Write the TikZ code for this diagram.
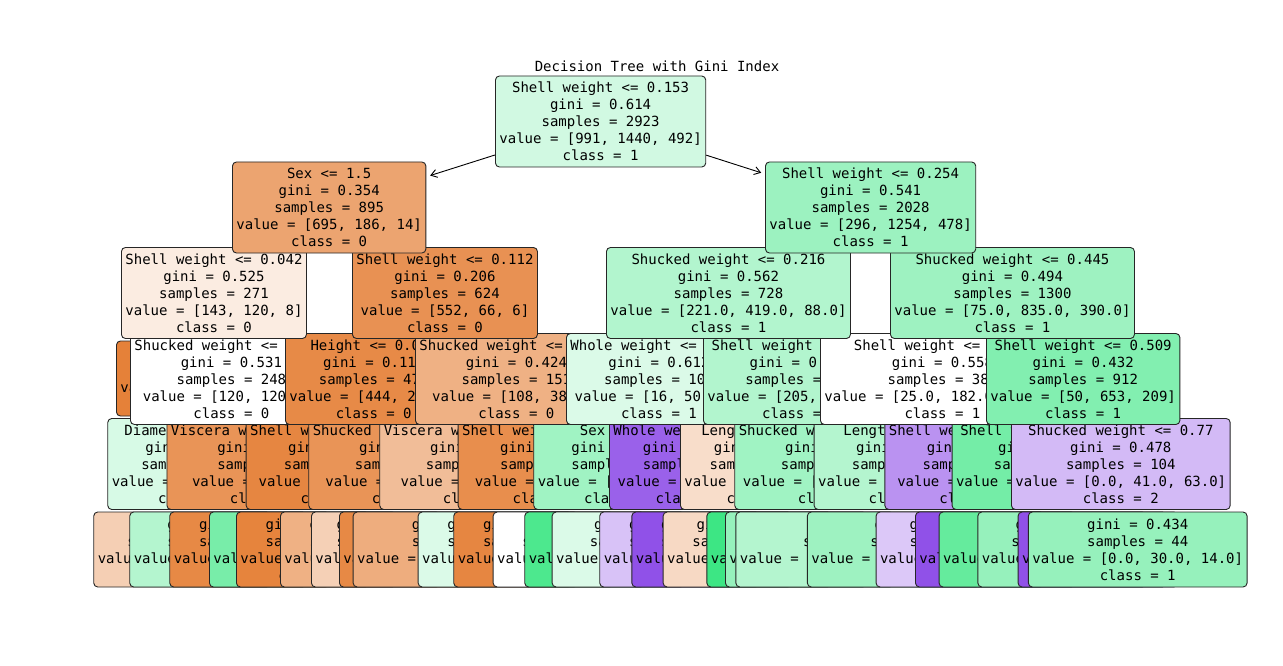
\documentclass[tikz,border=0pt]{standalone}
\usepackage{fontspec}
\newfontfamily\treefont{DejaVu Sans Mono}
\usetikzlibrary{arrows.meta}
\definecolor{cz}{RGB}{229,129,57}
\definecolor{co}{RGB}{57,229,129}
\definecolor{ct}{RGB}{129,57,229}
% \tv{left edge}{x where the next box covers}{line|line|...}:
% prints the characters left of the covering box, keeps the hidden rest as blank space
\ExplSyntaxOn
\fp_new:N \l__tv_cw_fp
\fp_set:Nn \l__tv_cw_fp { 14 * 1233 / 2048 }
\seq_new:N \l__tv_lines_seq
\int_new:N \l__tv_max_int
\int_new:N \l__tv_len_int
\int_new:N \l__tv_n_int
\fp_new:N \l__tv_center_fp
\tl_new:N \l__tv_out_tl
\bool_new:N \l__tv_first_bool
\NewDocumentCommand \tv { m m m }
 {
  \seq_set_split:Nnn \l__tv_lines_seq { | } { #3 }
  \int_zero:N \l__tv_max_int
  \seq_map_inline:Nn \l__tv_lines_seq
   {
    \int_set:Nn \l__tv_len_int { \str_count:n { ##1 } }
    \int_compare:nNnT \l__tv_len_int > \l__tv_max_int
     { \int_set_eq:NN \l__tv_max_int \l__tv_len_int }
   }
  \fp_set:Nn \l__tv_center_fp { #1 + 4 + \l__tv_max_int * \l__tv_cw_fp / 2 }
  \tl_clear:N \l__tv_out_tl
  \bool_set_true:N \l__tv_first_bool
  \seq_map_inline:Nn \l__tv_lines_seq
   {
    \int_set:Nn \l__tv_len_int { \str_count:n { ##1 } }
    \int_set:Nn \l__tv_n_int
     { \fp_eval:n { ceil( ( #2 - ( \l__tv_center_fp - \l__tv_len_int * \l__tv_cw_fp / 2 ) ) / \l__tv_cw_fp ) } }
    \int_set:Nn \l__tv_n_int
     { \int_max:nn { 0 } { \int_min:nn { \l__tv_len_int } { \l__tv_n_int } } }
    \bool_if:NF \l__tv_first_bool { \tl_put_right:Nn \l__tv_out_tl { \\ } }
    \bool_set_false:N \l__tv_first_bool
    \tl_put_right:Nx \l__tv_out_tl
     {
      \str_range:nnn { ##1 } { 1 } { \int_use:N \l__tv_n_int }
      \exp_not:N \phantom { \str_range:nnn { ##1 } { \int_eval:n { \l__tv_n_int + 1 } } { -1 } }
     }
   }
  \tl_use:N \l__tv_out_tl
 }
\ExplSyntaxOff
\tikzset{
  tn/.style={draw=black!85, line width=0.9pt, rounded corners=4pt, anchor=west, align=center,
    font=\treefont\fontsize{14}{17}\selectfont, inner xsep=4pt, inner ysep=0pt, minimum height=91pt},
  lf/.style={tn, minimum height=75pt},
  edgearrow/.style={draw=black, line width=0.9pt, -{Straight Barb[length=6pt,width=8pt]}, shorten >=4pt}
}
\begin{document}
\begin{tikzpicture}[x=1pt,y=-1pt]
\useasboundingbox (0,0) rectangle (1283,666);
\fill[white] (0,0) rectangle (1283,666);
% ---------------- depth 5 (leaves)
\node[lf, fill=cz!38] (l1) at (93.3,549.5) {\tv{93.3}{129.3}{gini = 0.518|samples = 118|value = [70, 36, 12]|class = 0}};
\node[lf, fill=co!38] (l2) at (129.3,549.5) {\tv{129.3}{169.3}{gini = 0.511|samples = 64|value = [10, 41, 13]|class = 1}};
\node[lf, fill=cz!94] (l3) at (169.3,549.5) {\tv{169.3}{209}{gini = 0.128|samples = 29|value = [27, 2, 0]|class = 0}};
\node[lf, fill=co!68] (l4) at (209,549.5) {\tv{209}{236}{gini = 0.394|samples = 17|value = [1, 13, 3]|class = 1}};
\node[lf, fill=cz!98] (l5) at (236,549.5) {\tv{236}{280}{gini = 0.035|samples = 56|value = [55, 1, 0]|class = 0}};
\node[lf, fill=cz!62] (l6) at (280,549.5) {\tv{280}{311}{gini = 0.444|samples = 30|value = [21, 8, 1]|class = 0}};
\node[lf, fill=cz!37] (l7) at (311,549.5) {\tv{311}{339}{gini = 0.444|samples = 12|value = [8, 4, 0]|class = 0}};
\node[lf, fill=cz!94] (l8) at (339,549.5) {\tv{339}{352.7}{gini = 0.091|samples = 21|value = [20, 1, 0]|class = 0}};
\node[lf, fill=cz!65] (l9) at (352.7,549.5) {\tv{352.7}{417.7}{gini = 0.376|samples = 59|value = [45.0, 12.0, 2.0]|class = 0}};
\node[lf, fill=co!18] (l10) at (417.7,549.5) {\tv{417.7}{453.3}{gini = 0.605|samples = 23|value = [7, 12, 4]|class = 1}};
\node[lf, fill=cz!96] (l11) at (453.3,549.5) {\tv{453.3}{492.7}{gini = 0.069|samples = 28|value = [27, 1, 0]|class = 0}};
\node[lf, fill=white] (l12) at (492.7,549.5) {\tv{492.7}{524.3}{gini = 0.5|samples = 8|value = [4, 4, 0]|class = 0}};
\node[lf, fill=co!90] (l13) at (524.3,549.5) {\tv{524.3}{551.7}{gini = 0.142|samples = 26|value = [0, 24, 2]|class = 1}};
\node[lf, fill=co!18] (l14) at (551.7,549.5) {\tv{551.7}{599.3}{gini = 0.543|samples = 179|value = [12, 100, 67]|class = 1}};
\node[lf, fill=ct!31] (l15) at (599.3,549.5) {\tv{599.3}{631.4}{gini = 0.545|samples = 20|value = [1, 8, 11]|class = 2}};
\node[lf, fill=ct!88] (l16) at (631.4,549.5) {\tv{631.4}{662.7}{gini = 0.165|samples = 22|value = [0, 2, 20]|class = 2}};
\node[lf, fill=cz!30] (l17) at (662.7,549.5) {\tv{662.7}{706.4}{gini = 0.483|samples = 107|value = [64, 40, 3]|class = 0}};
\node[lf, fill=co!98] (l18) at (706.4,549.5) {\tv{706.4}{725}{gini = 0.0|samples = 31|value = [0, 31, 0]|class = 1}};
\node[lf, fill=co!53] (l19) at (725,549.5) {\tv{725}{735.4}{gini = 0.455|samples = 56|value = [5, 40, 11]|class = 1}};
\node[lf, fill=co!38] (l20) at (735.4,549.5) {\tv{735.4}{806.9}{gini = 0.504|samples = 381|value = [105.0, 245.0, 31.0]|class = 1}};
\node[lf, fill=co!49] (l21) at (806.9,549.5) {\tv{806.9}{875.6}{gini = 0.314|samples = 295|value = [10.0, 240.0, 45.0]|class = 1}};
\node[lf, fill=ct!28] (l22) at (875.6,549.5) {\tv{875.6}{915}{gini = 0.470|samples = 66|value = [0, 25, 41]|class = 2}};
\node[lf, fill=ct!88] (l23) at (915,549.5) {\tv{915}{938.6}{gini = 0.142|samples = 26|value = [0, 2, 24]|class = 2}};
\node[lf, fill=co!78] (l24) at (938.6,549.5) {\tv{938.6}{977.4}{gini = 0.367|samples = 127|value = [12.0, 98.0, 17.0]|class = 1}};
\node[lf, fill=co!53] (l25) at (977.4,549.5) {\tv{977.4}{1017.6}{gini = 0.48|samples = 40|value = [0, 24, 16]|class = 1}};
\node[lf, fill=ct!88] (l26) at (1017.6,549.5) {\tv{1017.6}{1027.9}{gini = 0.0|samples = 18|value = [0, 0, 18]|class = 2}};
\node[lf, fill=co!53] (l27) at (1027.9,549.5) {gini = 0.434\\samples = 44\\value = [0.0, 30.0, 14.0]\\class = 1};
% ---------------- depth 4
\node[tn, fill=co!20] (d4a) at (107.3,464) {\tv{107.3}{166.5}{Diameter <= 0.215|gini = 0.494|samples = 177|value = [57, 112, 8]|class = 1}};
\node[tn, fill=cz!85] (d4b) at (166.5,464) {\tv{166.5}{245.7}{Viscera weight <= 0.017|gini = 0.200|samples = 71|value = [63, 8, 0]|class = 0}};
\node[tn, fill=cz!96] (d4c) at (245.7,464) {\tv{245.7}{308.3}{Shell weight <= 0.075|gini = 0.025|samples = 315|value = [311, 4, 0]|class = 0}};
\node[tn, fill=cz!85] (d4d) at (308.3,464) {\tv{308.3}{379.3}{Shucked weight <= 0.152|gini = 0.272|samples = 158|value = [133, 24, 1]|class = 0}};
\node[tn, fill=cz!52] (d4e) at (379.3,464) {\tv{379.3}{457.7}{Viscera weight <= 0.066|gini = 0.515|samples = 100|value = [60, 35, 5]|class = 0}};
\node[tn, fill=cz!90] (d4f) at (457.7,464) {\tv{457.7}{533.3}{Shell weight <= 0.131|gini = 0.111|samples = 51|value = [48, 3, 0]|class = 0}};
\node[tn, fill=co!48] (d4g) at (533.3,464) {\tv{533.3}{609}{Sex <= 0.5|gini = 0.572|samples = 65|value = [14, 41, 10]|class = 1}};
\node[tn, fill=ct!80] (d4h) at (609,464) {\tv{609}{680}{Whole weight <= 0.5|gini = 0.446|samples = 39|value = [2, 9, 28]|class = 2}};
\node[tn, fill=cz!27] (d4i) at (680,464) {\tv{680}{734.3}{Length <= 0.385|gini = 0.517|samples = 163|value = [90, 70, 3]|class = 0}};
\node[tn, fill=co!48] (d4j) at (734.3,464) {\tv{734.3}{813.7}{Shucked weight <= 0.185|gini = 0.497|samples = 461|value = [115, 299, 47]|class = 1}};
\node[tn, fill=co!38] (d4k) at (813.7,464) {\tv{813.7}{884.4}{Length <= 0.565|gini = 0.512|samples = 201|value = [20, 120, 61]|class = 1}};
\node[tn, fill=ct!55] (d4l) at (884.4,464) {\tv{884.4}{951.6}{Shell weight <= 0.355|gini = 0.512|samples = 174|value = [5, 70, 99]|class = 2}};
\node[tn, fill=co!70] (d4m) at (951.6,464) {\tv{951.6}{1011}{Shell weight <= 0.389|gini = 0.390|samples = 808|value = [50, 612, 146]|class = 1}};
\node[tn, fill=ct!35] (d4n) at (1011,464) {Shucked weight <= 0.77\\gini = 0.478\\samples = 104\\value = [0.0, 41.0, 63.0]\\class = 2};
% ---------------- depth 3
\node[lf, fill=cz] (d3a) at (116,378.5) {\tv{116}{130}{gini = 0.0|samples = 23|value = [23, 0, 0]|class = 0}};
\node[tn, fill=white] (d3b) at (130,379) {\tv{130}{285}{Shucked weight <= 0.098|gini = 0.531|samples = 248|value = [120, 120, 8]|class = 0}};
\node[tn, fill=cz!93] (d3c) at (285,379) {\tv{285}{415}{Height <= 0.085|gini = 0.115|samples = 473|value = [444, 28, 1]|class = 0}};
\node[tn, fill=cz!62] (d3d) at (415,379) {\tv{415}{566}{Shucked weight <= 0.254|gini = 0.424|samples = 151|value = [108, 38, 5]|class = 0}};
\node[tn, fill=co!18] (d3e) at (566,379) {\tv{566}{703}{Whole weight <= 0.357|gini = 0.612|samples = 104|value = [16, 50, 38]|class = 1}};
\node[tn, fill=co!39] (d3f) at (703,379) {\tv{703}{820}{Shell weight <= 0.177|gini = 0.536|samples = 624|value = [205, 369, 50]|class = 1}};
\node[tn, fill=white] (d3g) at (820,379) {\tv{820}{986}{Shell weight <= 0.313|gini = 0.558|samples = 388|value = [25.0, 182.0, 181.0]|class = 1}};
\node[tn, fill=co!63] (d3h) at (986,379) {Shell weight <= 0.509\\gini = 0.432\\samples = 912\\value = [50, 653, 209]\\class = 1};
% ---------------- depth 2
\node[tn, fill=cz!15] (d2a) at (121,293) {Shell weight <= 0.042\\gini = 0.525\\samples = 271\\value = [143, 120, 8]\\class = 0};
\node[tn, fill=cz!87] (d2b) at (352,293) {Shell weight <= 0.112\\gini = 0.206\\samples = 624\\value = [552, 66, 6]\\class = 0};
\node[tn, fill=co!39] (d2c) at (606,293) {Shucked weight <= 0.216\\gini = 0.562\\samples = 728\\value = [221.0, 419.0, 88.0]\\class = 1};
\node[tn, fill=co!49] (d2d) at (890,293) {Shucked weight <= 0.445\\gini = 0.494\\samples = 1300\\value = [75.0, 835.0, 390.0]\\class = 1};
% ---------------- depth 1
\node[tn, fill=cz!72] (d1a) at (232,207.5) {Sex <= 1.5\\gini = 0.354\\samples = 895\\value = [695, 186, 14]\\class = 0};
\node[tn, fill=co!50] (d1b) at (765,207.5) {Shell weight <= 0.254\\gini = 0.541\\samples = 2028\\value = [296, 1254, 478]\\class = 1};
% ---------------- depth 0
\node[tn, fill=co!23] (root) at (495,121.5) {Shell weight <= 0.153\\gini = 0.614\\samples = 2923\\value = [991, 1440, 492]\\class = 1};
\draw[edgearrow] (root) -- (d1a);
\draw[edgearrow] (root) -- (d1b);
% ---------------- title
\node[font=\treefont\fontsize{14}{17}\selectfont, anchor=base] (title) at (657,72) {Decision Tree with Gini Index};
\end{tikzpicture}
\end{document}
